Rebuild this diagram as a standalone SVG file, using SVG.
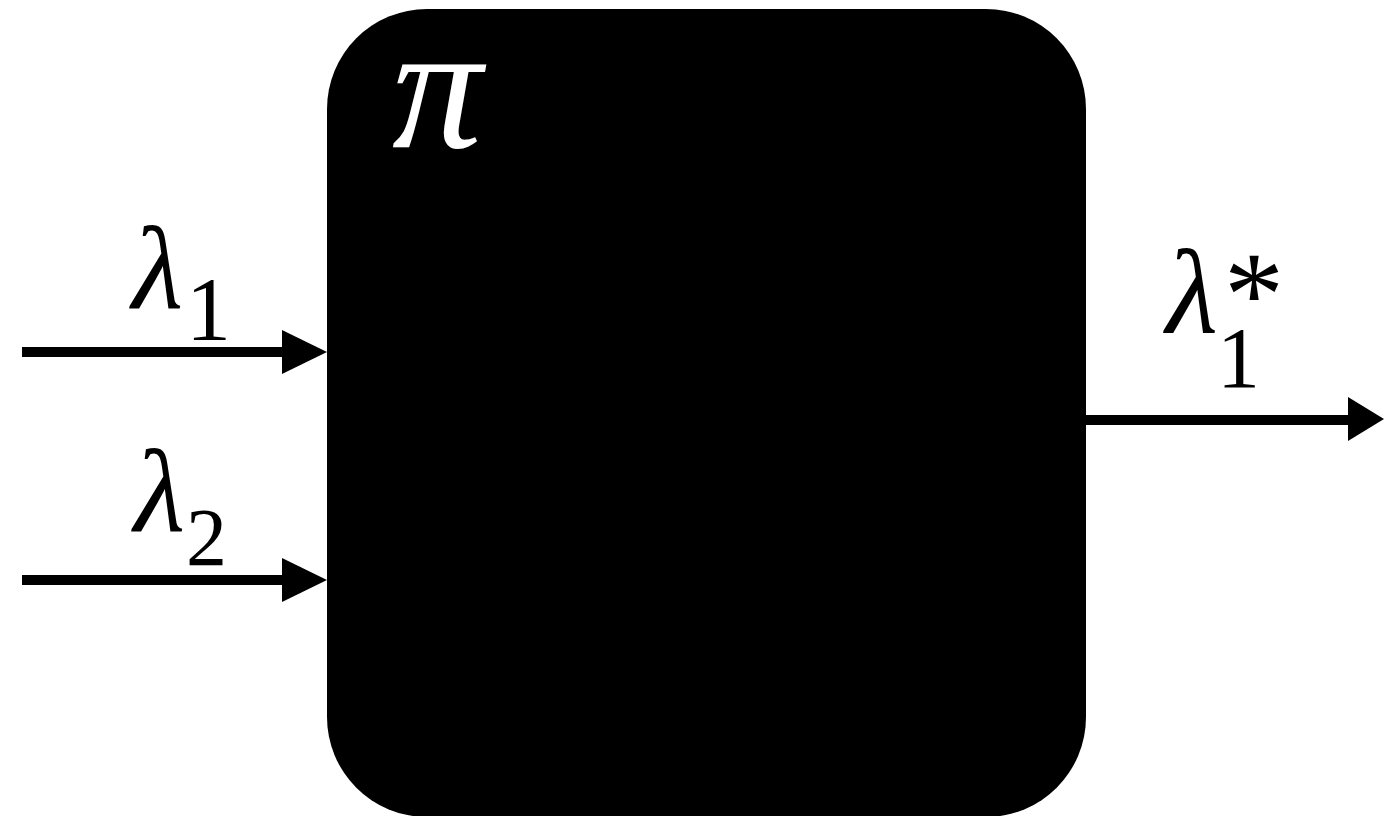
<svg xmlns="http://www.w3.org/2000/svg" width="1384" height="816" viewBox="0 0 1384 816">
<style>
.ln{stroke:#000;stroke-width:10;fill:none;}
.hd{fill:#000;}
.t{font-family:"Liberation Serif",serif;}
.i{font-style:italic;}
</style>
<rect width="1384" height="816" fill="#fff"/>
<g id="box">
<rect x="327" y="9" width="759" height="808" rx="100" ry="100" fill="#000"/>
<text class="t i" x="392" y="147" font-size="180" fill="#fff">π</text>
</g>
<g id="connectors">
<line class="ln" x1="22" y1="352" x2="284" y2="352"/>
<polygon class="hd" points="282,330 327,352 282,374"/>
<line class="ln" x1="22" y1="580" x2="284" y2="580"/>
<polygon class="hd" points="282,558 327,580 282,602"/>
<line class="ln" x1="1086" y1="420" x2="1350" y2="420"/>
<polygon class="hd" points="1348,397 1384,419 1348,441"/>
</g>
<g id="label-l1" class="t">
<text class="i" x="132" y="308" font-size="118">λ</text>
<text x="186" y="340" font-size="90">1</text>
</g>
<g id="label-l2" class="t">
<text class="i" x="134" y="531" font-size="118">λ</text>
<text x="186" y="565" font-size="82">2</text>
</g>
<g id="label-out" class="t">
<text class="i" x="1166" y="333" font-size="120">λ</text>
<text x="1224" y="335" font-size="120">*</text>
<text x="1217" y="387" font-size="86">1</text>
</g>
</svg>
